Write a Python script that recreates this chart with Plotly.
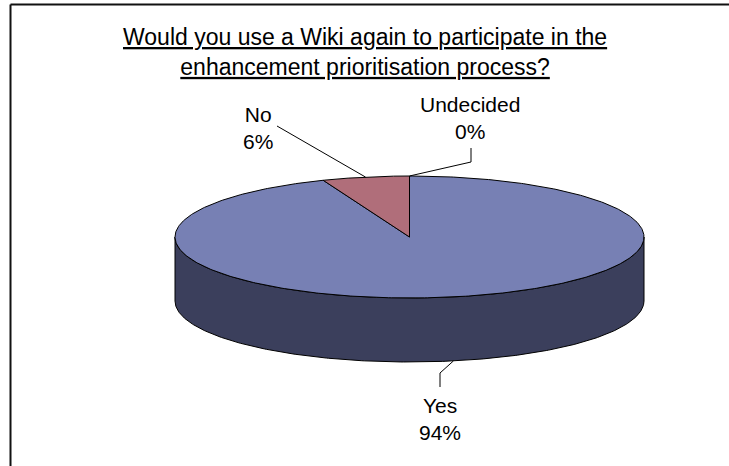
import numpy as np
import plotly.graph_objects as go

# Data
categories = ["Yes", "No", "Undecided"]
values = [94, 6, 0]
pct_labels = ["94%", "6%", "0%"]
title_lines = ["Would you use a Wiki again to participate in the",
               "enhancement prioritisation process?"]

W, H = 729, 466
cx, cy = 409.5, 237.0
rx, ry = 234.5, 61.0
depth = 64.0

top_colors = {"Yes": "#7780B4", "No": "#B06E7A", "Undecided": "#E8E8C0"}
side_colors = {"Yes": "#3B3F5C", "No": "#5E3A42", "Undecided": "#808060"}
FONT = "Liberation Sans, Arial, sans-serif"


def pt(t_deg, dy=0.0):
    t = np.radians(t_deg)
    return cx + rx * np.sin(t), cy - ry * np.cos(t) + dy


total = float(sum(values))
fracs = [v / total for v in values]
spans = {}
start = 0.0
for c, f in zip(categories, fracs):
    spans[c] = (start, start + 360.0 * f)
    start += 360.0 * f

fig = go.Figure()

# Side wall (front half visible)
for c in categories:
    a0, a1 = spans[c]
    lo, hi = max(a0, 90.0), min(a1, 270.0)
    if hi <= lo:
        continue
    ts = np.linspace(lo, hi, 300)
    xs_t, ys_t = pt(ts)
    xs_b, ys_b = pt(ts[::-1], depth)
    xs = np.concatenate([xs_t, xs_b, xs_t[:1]])
    ys = np.concatenate([ys_t, ys_b, ys_t[:1]])
    fig.add_trace(go.Scatter(x=xs, y=ys, mode="lines", fill="toself",
                             fillcolor=side_colors[c],
                             line=dict(color="black", width=1),
                             hoverinfo="skip", showlegend=False))

# Top faces
for c in categories:
    a0, a1 = spans[c]
    if a1 - a0 <= 0:
        continue
    ts = np.linspace(a0, a1, 500)
    xs_a, ys_a = pt(ts)
    xs = np.concatenate([[cx], xs_a, [cx]])
    ys = np.concatenate([[cy], ys_a, [cy]])
    fig.add_trace(go.Scatter(x=xs, y=ys, mode="lines", fill="toself",
                             fillcolor=top_colors[c],
                             line=dict(color="black", width=1),
                             hoverinfo="skip", showlegend=False))

# Labels with leader lines (label placement as dragged in the original)
label_pos = {
    "Yes": (440, 419),
    "No": (258, 128),
    "Undecided": (470, 118),
}
# leader: (depth offset at pie edge), then bend points
leader = {
    "Yes": [depth, (440, 373), (440, 387)],
    "No": [0.0, (277, 126)],
    "Undecided": [0.0, (471, 162), (471, 148)],
}
for c in categories:
    a0, a1 = spans[c]
    mid = (a0 + a1) / 2.0
    ax_, ay_ = pt(mid, leader[c][0])
    pts = [(ax_, ay_)] + leader[c][1:]
    fig.add_trace(go.Scatter(x=[p[0] for p in pts], y=[p[1] for p in pts],
                             mode="lines", line=dict(color="black", width=1),
                             hoverinfo="skip", showlegend=False))
    lx, ly = label_pos[c]
    i = categories.index(c)
    fig.add_annotation(x=lx, y=ly, text=f"{c}<br>{pct_labels[i]}",
                       showarrow=False, xanchor="center", yanchor="middle",
                       font=dict(family=FONT, size=21, color="black"))

fig.add_annotation(x=365, y=52,
                   text="<u>" + title_lines[0] + "</u><br><u>" + title_lines[1] + "</u>",
                   showarrow=False, xanchor="center", yanchor="middle",
                   font=dict(family=FONT, size=23, color="black"))

# Frame border (left and top)
fig.add_shape(type="line", x0=10.5, y0=4.5, x1=W + 2, y1=4.5, line=dict(color="#111111", width=2))
fig.add_shape(type="line", x0=10.5, y0=4.5, x1=10.5, y1=H + 2, line=dict(color="#111111", width=2))

fig.update_xaxes(range=[0, W], visible=False, fixedrange=True)
fig.update_yaxes(range=[H, 0], visible=False, fixedrange=True)
fig.update_layout(width=W, height=H, margin=dict(l=0, r=0, t=0, b=0),
                  paper_bgcolor="white", plot_bgcolor="white", showlegend=False)

fig.write_html("out.html")
